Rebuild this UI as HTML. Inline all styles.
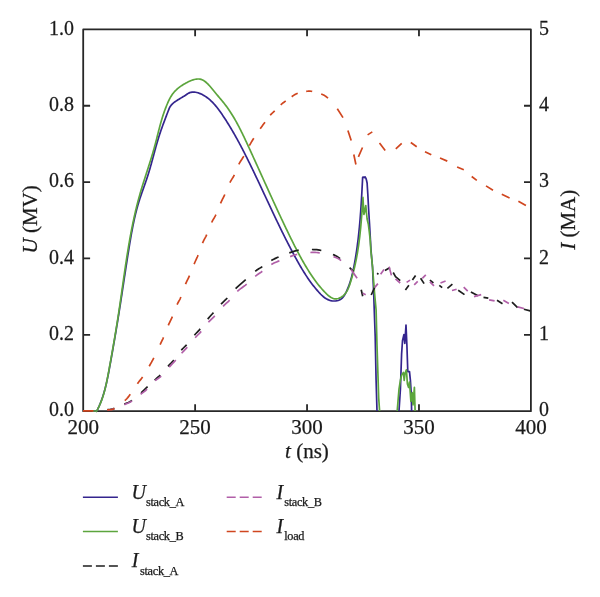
<!DOCTYPE html><html><head><meta charset="utf-8"><style>html,body{margin:0;padding:0;background:#fff;}svg{display:block;will-change:transform}text{font-family:"Liberation Serif",serif;fill:#1a1a1a;stroke:#1a1a1a;stroke-width:0.25px}</style></head><body>
<svg width="600" height="597" viewBox="0 0 600 597">
<rect width="600" height="597" fill="#fff"/>
<g stroke="#272727" stroke-width="1.8" fill="none">
<rect x="83.2" y="29.4" width="447.7" height="381.75" stroke-linejoin="round"/>
<path d="M195.12 411.15V404.25M195.12 29.4V36.3M307.05 411.15V404.25M307.05 29.4V36.3M418.97 411.15V404.25M418.97 29.4V36.3M83.2 334.8H90.1M530.9 334.8H524M83.2 258.45H90.1M530.9 258.45H524M83.2 182.1H90.1M530.9 182.1H524M83.2 105.75H90.1M530.9 105.75H524"/>
</g>
<g fill="none" stroke-linejoin="round">
<path d="M92.5 411L96.5 411L96.54 411.43L97.1 410.36L97.65 409.28L98.18 408.19L98.69 407.1L99.19 406L99.67 404.89L100.14 403.77L100.59 402.65L101.03 401.52L101.46 400.38L101.87 399.24L102.27 398.09L102.66 396.94L103.04 395.78L103.4 394.61L103.76 393.44L104.1 392.27L104.43 391.09L104.76 389.91L105.07 388.72L105.38 387.53L105.68 386.33L105.97 385.14L106.25 383.94L106.53 382.73L106.8 381.52L107.06 380.31L107.32 379.1L107.57 377.89L107.82 376.67L108.06 375.46L108.3 374.24L108.54 373.02L108.77 371.8L109 370.58L109.23 369.35L109.46 368.13L109.68 366.91L109.9 365.69L110.13 364.46L110.35 363.24L110.57 362.02L110.79 360.8L111.01 359.58L111.23 358.36L111.45 357.14L111.67 355.92L111.88 354.7L112.1 353.48L112.32 352.26L112.53 351.04L112.75 349.82L112.96 348.6L113.17 347.39L113.39 346.17L113.6 344.95L113.81 343.73L114.02 342.51L114.23 341.3L114.44 340.08L114.65 338.86L114.86 337.64L115.07 336.43L115.27 335.21L115.48 333.99L115.69 332.77L115.89 331.56L116.1 330.34L116.3 329.12L116.5 327.91L116.7 326.69L116.91 325.47L117.11 324.26L117.31 323.04L117.51 321.82L117.71 320.61L117.91 319.39L118.1 318.17L118.3 316.95L118.5 315.74L118.69 314.52L118.89 313.3L119.08 312.08L119.28 310.87L119.47 309.65L119.66 308.43L119.86 307.21L120.05 306L120.24 304.78L120.43 303.56L120.62 302.34L120.81 301.12L121 299.9L121.19 298.68L121.37 297.47L121.56 296.25L121.75 295.03L121.93 293.81L122.12 292.59L122.31 291.37L122.49 290.15L122.68 288.93L122.86 287.71L123.05 286.49L123.23 285.27L123.42 284.05L123.6 282.82L123.79 281.6L123.97 280.38L124.16 279.16L124.35 277.94L124.53 276.72L124.72 275.5L124.9 274.28L125.09 273.05L125.28 271.83L125.46 270.61L125.65 269.39L125.84 268.17L126.02 266.94L126.21 265.72L126.4 264.5L126.59 263.28L126.78 262.05L126.97 260.83L127.16 259.61L127.35 258.38L127.55 257.16L127.74 255.94L127.93 254.71L128.13 253.49L128.32 252.27L128.52 251.04L128.72 249.82L128.92 248.6L129.11 247.37L129.32 246.15L129.52 244.92L129.72 243.7L129.92 242.48L130.13 241.25L130.33 240.03L130.54 238.81L130.75 237.58L130.97 236.36L131.18 235.14L131.4 233.92L131.62 232.7L131.85 231.48L132.08 230.26L132.31 229.04L132.54 227.83L132.78 226.61L133.02 225.4L133.27 224.19L133.52 222.98L133.77 221.77L134.03 220.56L134.3 219.36L134.56 218.16L134.84 216.95L135.12 215.76L135.4 214.56L135.69 213.36L135.99 212.17L136.29 210.98L136.6 209.79L136.92 208.61L137.24 207.43L137.57 206.25L137.9 205.07L138.25 203.9L138.6 202.73L138.95 201.56L139.32 200.4L139.69 199.24L140.07 198.08L140.46 196.92L140.85 195.77L141.24 194.62L141.64 193.47L142.04 192.32L142.45 191.17L142.85 190.02L143.26 188.87L143.67 187.73L144.08 186.58L144.48 185.43L144.89 184.28L145.29 183.13L145.69 181.98L146.09 180.83L146.49 179.67L146.87 178.51L147.26 177.35L147.63 176.18L148.01 175.02L148.37 173.85L148.73 172.67L149.08 171.5L149.43 170.32L149.78 169.15L150.12 167.97L150.46 166.79L150.79 165.61L151.12 164.43L151.45 163.25L151.78 162.06L152.1 160.88L152.42 159.71L152.74 158.53L153.05 157.35L153.37 156.18L153.69 155L154 153.83L154.32 152.67L154.63 151.5L154.95 150.34L155.27 149.18L155.58 148.03L155.9 146.88L156.22 145.73L156.55 144.59L156.87 143.45L157.2 142.31L157.54 141.18L157.88 140.04L158.22 138.9L158.58 137.75L158.93 136.61L159.3 135.45L159.68 134.29L160.06 133.13L160.46 131.95L160.86 130.77L161.28 129.58L161.7 128.39L162.12 127.2L162.55 126.02L162.98 124.83L163.41 123.66L163.85 122.5L164.27 121.35L164.7 120.21L165.12 119.09L165.54 117.99L165.95 116.91L166.35 115.85L166.75 114.8L167.15 113.77L167.54 112.76L167.92 111.76L168.3 110.78L168.67 109.82L169.04 108.88L169.44 107.96L169.89 107.07L170.42 106.21L171.02 105.4L171.7 104.62L172.45 103.86L173.26 103.14L174.12 102.44L175.04 101.75L175.99 101.09L176.98 100.43L178 99.79L179.05 99.15L180.11 98.52L181.18 97.88L182.26 97.25L183.34 96.6L184.41 95.95L185.48 95.25L186.54 94.5L187.62 93.77L188.71 93.13L189.82 92.64L190.96 92.3L192.1 92.1L193.26 92.03L194.42 92.08L195.59 92.23L196.74 92.47L197.89 92.79L199.02 93.17L200.13 93.6L201.22 94.08L202.28 94.59L203.32 95.14L204.34 95.73L205.34 96.36L206.32 97.02L207.27 97.71L208.21 98.43L209.13 99.19L210.03 99.97L210.92 100.78L211.78 101.61L212.63 102.47L213.47 103.34L214.29 104.24L215.1 105.16L215.89 106.1L216.67 107.06L217.44 108.03L218.2 109.01L218.94 110.01L219.68 111.01L220.41 112.03L221.13 113.05L221.84 114.08L222.54 115.12L223.24 116.16L223.93 117.2L224.62 118.24L225.3 119.29L225.97 120.33L226.64 121.38L227.31 122.43L227.96 123.48L228.62 124.54L229.27 125.59L229.91 126.65L230.55 127.71L231.18 128.77L231.81 129.83L232.44 130.9L233.06 131.96L233.68 133.03L234.29 134.1L234.9 135.17L235.5 136.24L236.1 137.31L236.7 138.39L237.29 139.46L237.89 140.54L238.47 141.62L239.06 142.7L239.64 143.78L240.21 144.86L240.79 145.95L241.36 147.03L241.93 148.12L242.5 149.21L243.06 150.3L243.62 151.39L244.18 152.48L244.74 153.58L245.29 154.67L245.85 155.77L246.4 156.86L246.95 157.96L247.49 159.06L248.04 160.16L248.59 161.26L249.13 162.36L249.67 163.47L250.21 164.57L250.75 165.68L251.29 166.78L251.83 167.89L252.37 169L252.9 170.11L253.43 171.21L253.97 172.32L254.5 173.44L255.03 174.55L255.56 175.66L256.09 176.77L256.62 177.89L257.15 179L257.68 180.11L258.2 181.23L258.73 182.35L259.26 183.46L259.78 184.58L260.31 185.7L260.83 186.81L261.36 187.93L261.88 189.05L262.4 190.17L262.93 191.29L263.45 192.41L263.97 193.53L264.5 194.64L265.02 195.76L265.54 196.88L266.07 198L266.59 199.12L267.11 200.24L267.64 201.36L268.16 202.48L268.68 203.6L269.21 204.72L269.73 205.84L270.26 206.96L270.78 208.08L271.31 209.2L271.84 210.32L272.36 211.44L272.89 212.56L273.42 213.68L273.95 214.8L274.48 215.92L275.01 217.03L275.54 218.15L276.08 219.27L276.61 220.38L277.14 221.5L277.68 222.61L278.22 223.73L278.75 224.84L279.29 225.96L279.83 227.07L280.37 228.18L280.92 229.29L281.46 230.4L282.01 231.51L282.55 232.62L283.1 233.73L283.65 234.84L284.2 235.94L284.76 237.05L285.31 238.15L285.87 239.26L286.43 240.36L286.99 241.46L287.55 242.56L288.11 243.66L288.68 244.76L289.24 245.86L289.81 246.96L290.39 248.05L290.96 249.15L291.53 250.24L292.11 251.33L292.69 252.42L293.28 253.51L293.86 254.6L294.45 255.68L295.04 256.77L295.63 257.85L296.22 258.93L296.82 260.01L297.42 261.09L298.03 262.17L298.63 263.24L299.25 264.31L299.86 265.38L300.48 266.45L301.11 267.51L301.74 268.57L302.37 269.62L303.01 270.68L303.66 271.72L304.31 272.77L304.97 273.81L305.64 274.84L306.31 275.87L306.99 276.9L307.67 277.91L308.37 278.93L309.07 279.94L309.78 280.94L310.5 281.94L311.23 282.93L311.97 283.91L312.71 284.89L313.47 285.86L314.23 286.82L315.01 287.78L315.8 288.73L316.59 289.67L317.4 290.6L318.22 291.53L319.05 292.45L319.89 293.35L320.75 294.24L321.63 295.11L322.52 295.94L323.45 296.74L324.4 297.49L325.38 298.19L326.4 298.83L327.46 299.4L328.55 299.89L329.7 300.31L330.88 300.63L332.11 300.86L333.36 300.99L334.61 301.02L335.86 300.95L337.07 300.76L338.24 300.45L339.36 300.03L340.39 299.49L341.34 298.82L342.22 298.05L343.02 297.18L343.76 296.23L344.44 295.21L345.08 294.14L345.67 293.03L346.24 291.9L346.77 290.76L347.28 289.61L347.77 288.45L348.24 287.29L348.69 286.13L349.12 284.96L349.53 283.79L349.92 282.61L350.3 281.44L350.66 280.25L351.01 279.07L351.34 277.88L351.66 276.69L351.96 275.49L352.26 274.29L352.54 273.09L352.81 271.89L353.07 270.69L353.33 269.48L353.58 268.28L353.82 267.07L354.05 265.86L354.28 264.65L354.51 263.43L354.73 262.22L354.94 261.01L355.15 259.79L355.36 258.58L355.56 257.36L355.76 256.14L355.96 254.93L356.15 253.71L356.33 252.49L356.52 251.27L356.69 250.05L356.87 248.82L357.04 247.6L357.21 246.38L357.37 245.16L357.53 243.93L357.69 242.71L357.84 241.48L357.99 240.25L358.14 239.03L358.28 237.8L358.42 236.57L358.56 235.34L358.69 234.11L358.82 232.88L358.95 231.66L359.07 230.42L359.19 229.19L359.31 227.96L359.43 226.73L359.54 225.5L359.66 224.27L359.77 223.04L359.87 221.8L359.98 220.57L360.08 219.34L360.18 218.1L360.28 216.87L360.37 215.64L360.46 214.4L360.56 213.17L360.65 211.94L360.73 210.7L360.82 209.47L360.9 208.23L360.99 207L361.07 205.76L361.15 204.53L361.23 203.29L361.3 202.06L361.38 200.83L361.45 199.59L361.53 198.36L361.6 197.12L361.67 195.89L361.74 194.66L361.81 193.42L361.87 192.19L361.94 190.96L362.01 189.72L362.07 188.49L362.14 187.26L362.2 186.02L362.27 184.79L362.33 183.56L362.4 182.33L362.46 181.1L362.52 179.87L362.58 178.64L362.65 177.41L363.2 177L364.4 177.6L365.1 176.9L366 178.4L366.5 180.2L367.1 183L367.8 193.9L368.6 209L369.6 225.3L371 250L372.5 266.8L373.6 291L374.6 320L375.2 336.4L376.1 380.3L377 411M399 411L400.4 389.1L401.6 354L402.5 340.8L403.9 334.6L404.8 343.4L406 325L406.9 345.2L407.8 371.6L409.5 371.6L410.4 380.3L411.3 394.4L411.6 411" stroke="#34258e" stroke-width="1.7"/>
<path d="M92.5 411L96.5 411L96.48 411.38L97.07 410.34L97.64 409.28L98.19 408.21L98.72 407.13L99.23 406.05L99.72 404.95L100.2 403.84L100.66 402.73L101.11 401.61L101.54 400.48L101.95 399.34L102.35 398.2L102.74 397.05L103.11 395.89L103.47 394.72L103.82 393.55L104.15 392.38L104.48 391.2L104.79 390.01L105.09 388.82L105.39 387.62L105.68 386.42L105.95 385.22L106.22 384.02L106.49 382.81L106.75 381.6L107 380.38L107.24 379.16L107.48 377.95L107.72 376.73L107.95 375.51L108.18 374.29L108.41 373.07L108.63 371.84L108.86 370.62L109.08 369.4L109.3 368.18L109.52 366.96L109.74 365.74L109.97 364.53L110.19 363.31L110.41 362.09L110.62 360.88L110.84 359.66L111.06 358.45L111.28 357.23L111.49 356.02L111.71 354.81L111.93 353.59L112.14 352.38L112.35 351.17L112.57 349.96L112.78 348.74L112.99 347.53L113.2 346.32L113.41 345.11L113.62 343.9L113.83 342.69L114.04 341.48L114.25 340.27L114.45 339.06L114.66 337.85L114.87 336.64L115.07 335.43L115.27 334.22L115.47 333.01L115.68 331.8L115.88 330.59L116.08 329.38L116.27 328.17L116.47 326.96L116.67 325.75L116.86 324.53L117.06 323.32L117.25 322.11L117.44 320.9L117.64 319.68L117.83 318.47L118.02 317.26L118.2 316.04L118.39 314.83L118.58 313.61L118.76 312.4L118.95 311.18L119.13 309.96L119.31 308.74L119.49 307.53L119.67 306.31L119.85 305.09L120.03 303.87L120.21 302.65L120.38 301.43L120.56 300.21L120.74 298.99L120.91 297.76L121.09 296.54L121.26 295.32L121.44 294.1L121.61 292.88L121.78 291.65L121.96 290.43L122.13 289.21L122.3 287.98L122.48 286.76L122.65 285.54L122.82 284.31L123 283.09L123.17 281.87L123.35 280.64L123.52 279.42L123.7 278.19L123.87 276.97L124.05 275.75L124.22 274.52L124.4 273.3L124.58 272.08L124.76 270.85L124.94 269.63L125.12 268.41L125.3 267.18L125.48 265.96L125.66 264.74L125.85 263.52L126.03 262.29L126.22 261.07L126.4 259.85L126.59 258.63L126.78 257.41L126.97 256.19L127.16 254.97L127.36 253.75L127.55 252.53L127.75 251.31L127.95 250.09L128.15 248.88L128.35 247.66L128.55 246.44L128.76 245.23L128.96 244.01L129.17 242.8L129.38 241.58L129.6 240.37L129.81 239.16L130.03 237.95L130.25 236.73L130.47 235.52L130.69 234.31L130.92 233.1L131.15 231.9L131.38 230.69L131.61 229.48L131.85 228.28L132.09 227.07L132.33 225.87L132.57 224.66L132.82 223.46L133.07 222.26L133.32 221.06L133.58 219.86L133.84 218.66L134.1 217.47L134.36 216.27L134.63 215.08L134.9 213.88L135.18 212.69L135.45 211.5L135.73 210.31L136.02 209.12L136.31 207.93L136.6 206.74L136.89 205.56L137.19 204.37L137.49 203.19L137.8 202.01L138.11 200.83L138.42 199.65L138.74 198.47L139.06 197.3L139.39 196.12L139.72 194.95L140.05 193.78L140.39 192.61L140.73 191.44L141.08 190.27L141.42 189.1L141.78 187.94L142.13 186.77L142.49 185.61L142.85 184.45L143.21 183.28L143.58 182.12L143.95 180.96L144.32 179.8L144.69 178.64L145.06 177.48L145.43 176.32L145.8 175.16L146.18 174L146.55 172.84L146.93 171.68L147.3 170.52L147.68 169.35L148.05 168.19L148.43 167.03L148.8 165.86L149.17 164.7L149.54 163.53L149.91 162.36L150.28 161.2L150.65 160.03L151.01 158.85L151.37 157.68L151.73 156.51L152.08 155.33L152.44 154.15L152.79 152.97L153.13 151.79L153.47 150.61L153.81 149.42L154.15 148.23L154.48 147.04L154.8 145.84L155.12 144.65L155.44 143.45L155.75 142.25L156.06 141.05L156.37 139.85L156.68 138.65L156.98 137.45L157.28 136.25L157.58 135.05L157.89 133.85L158.19 132.66L158.49 131.47L158.79 130.28L159.1 129.1L159.4 127.92L159.71 126.75L160.02 125.58L160.34 124.41L160.66 123.26L160.98 122.11L161.31 120.96L161.64 119.83L161.98 118.7L162.32 117.58L162.67 116.47L163.02 115.37L163.39 114.27L163.75 113.19L164.13 112.11L164.51 111.04L164.9 109.98L165.3 108.92L165.7 107.87L166.11 106.82L166.53 105.78L166.95 104.75L167.39 103.71L167.83 102.69L168.28 101.66L168.75 100.65L169.24 99.64L169.75 98.64L170.28 97.66L170.84 96.69L171.44 95.73L172.06 94.78L172.73 93.85L173.43 92.94L174.18 92.05L174.97 91.18L175.8 90.33L176.68 89.5L177.59 88.69L178.53 87.9L179.51 87.13L180.52 86.39L181.56 85.67L182.63 84.97L183.72 84.29L184.84 83.64L185.97 83.02L187.13 82.42L188.3 81.84L189.48 81.3L190.68 80.78L191.88 80.31L193.08 79.89L194.27 79.53L195.46 79.26L196.63 79.07L197.78 78.98L198.9 79L200 79.15L201.06 79.41L202.09 79.79L203.1 80.28L204.08 80.85L205.03 81.51L205.97 82.25L206.88 83.06L207.78 83.92L208.65 84.83L209.52 85.78L210.37 86.76L211.21 87.76L212.04 88.77L212.87 89.79L213.69 90.79L214.51 91.79L215.32 92.77L216.13 93.73L216.93 94.69L217.73 95.64L218.53 96.58L219.31 97.51L220.1 98.44L220.87 99.37L221.64 100.29L222.4 101.21L223.15 102.14L223.89 103.07L224.63 104L225.35 104.94L226.07 105.88L226.77 106.83L227.47 107.79L228.15 108.76L228.83 109.73L229.5 110.72L230.16 111.7L230.81 112.7L231.45 113.7L232.08 114.71L232.71 115.72L233.33 116.74L233.94 117.77L234.54 118.8L235.14 119.83L235.73 120.88L236.32 121.92L236.89 122.97L237.47 124.03L238.03 125.09L238.6 126.15L239.15 127.22L239.71 128.29L240.25 129.37L240.8 130.44L241.34 131.53L241.87 132.61L242.41 133.7L242.94 134.79L243.46 135.88L243.99 136.98L244.51 138.07L245.03 139.17L245.54 140.27L246.06 141.37L246.57 142.47L247.08 143.58L247.6 144.68L248.11 145.79L248.62 146.89L249.13 148L249.64 149.11L250.15 150.21L250.65 151.32L251.16 152.43L251.67 153.54L252.18 154.65L252.68 155.76L253.19 156.87L253.7 157.98L254.2 159.09L254.71 160.2L255.22 161.31L255.72 162.43L256.23 163.54L256.73 164.65L257.24 165.76L257.74 166.88L258.25 167.99L258.75 169.1L259.25 170.22L259.76 171.33L260.26 172.45L260.77 173.56L261.27 174.68L261.78 175.79L262.28 176.91L262.79 178.02L263.29 179.14L263.8 180.26L264.3 181.37L264.81 182.49L265.31 183.61L265.82 184.72L266.33 185.84L266.83 186.96L267.34 188.08L267.85 189.19L268.35 190.31L268.86 191.43L269.37 192.54L269.88 193.66L270.39 194.78L270.9 195.9L271.41 197.02L271.92 198.13L272.43 199.25L272.94 200.37L273.45 201.49L273.97 202.6L274.48 203.72L274.99 204.84L275.51 205.95L276.02 207.07L276.54 208.19L277.06 209.31L277.58 210.42L278.09 211.54L278.61 212.66L279.13 213.77L279.66 214.89L280.18 216L280.7 217.12L281.22 218.24L281.75 219.35L282.27 220.47L282.8 221.58L283.33 222.7L283.86 223.81L284.39 224.92L284.92 226.04L285.45 227.15L285.98 228.26L286.52 229.38L287.05 230.49L287.59 231.6L288.13 232.71L288.67 233.83L289.21 234.94L289.75 236.05L290.29 237.16L290.84 238.27L291.38 239.38L291.93 240.48L292.48 241.59L293.03 242.7L293.59 243.8L294.14 244.9L294.7 246.01L295.26 247.11L295.82 248.21L296.39 249.3L296.96 250.4L297.53 251.49L298.11 252.58L298.68 253.67L299.27 254.76L299.85 255.84L300.44 256.92L301.03 258L301.63 259.07L302.23 260.14L302.83 261.21L303.44 262.28L304.05 263.34L304.67 264.4L305.29 265.45L305.92 266.5L306.55 267.55L307.19 268.59L307.83 269.63L308.47 270.67L309.13 271.7L309.78 272.72L310.45 273.74L311.11 274.76L311.79 275.77L312.47 276.78L313.16 277.78L313.86 278.78L314.57 279.77L315.29 280.76L316.02 281.74L316.76 282.72L317.52 283.7L318.28 284.67L319.06 285.64L319.85 286.6L320.66 287.55L321.48 288.51L322.32 289.46L323.17 290.4L324.04 291.34L324.93 292.27L325.83 293.2L326.76 294.11L327.7 294.98L328.66 295.79L329.64 296.55L330.64 297.22L331.67 297.8L332.71 298.27L333.77 298.62L334.86 298.83L335.97 298.89L337.1 298.78L338.23 298.53L339.35 298.14L340.45 297.63L341.51 297.01L342.51 296.31L343.44 295.54L344.29 294.7L345.08 293.81L345.8 292.86L346.47 291.86L347.08 290.81L347.65 289.73L348.18 288.61L348.66 287.47L349.12 286.3L349.55 285.11L349.95 283.91L350.34 282.71L350.72 281.5L351.09 280.28L351.45 279.07L351.8 277.86L352.14 276.66L352.47 275.45L352.8 274.24L353.12 273.03L353.43 271.82L353.74 270.62L354.03 269.41L354.32 268.2L354.6 267L354.88 265.79L355.15 264.59L355.41 263.38L355.66 262.18L355.91 260.97L356.15 259.76L356.39 258.56L356.62 257.35L356.84 256.15L357.06 254.94L357.27 253.74L357.47 252.53L357.68 251.32L357.87 250.12L358.06 248.91L358.24 247.7L358.42 246.5L358.6 245.29L358.77 244.08L358.93 242.87L359.1 241.66L359.25 240.45L359.4 239.24L359.55 238.03L359.7 236.81L359.84 235.6L359.97 234.39L360.11 233.17L360.23 231.96L360.36 230.74L360.48 229.52L360.6 228.31L360.72 227.09L360.83 225.87L360.94 224.64L361.05 223.42L361.16 222.2L361.26 220.97L361.36 219.75L361.46 218.52L361.56 217.29L361.65 216.06L361.75 214.83L361.84 213.6L361.93 212.36L362.02 211.13L362.11 209.89L362.19 208.65L362.28 207.41L362.36 206.17L362.45 204.93L362.53 203.68L362.61 202.43L362.7 201.18L362.78 199.93L362.86 198.68L362.94 197.43L363.9 214.5L364.4 213L365.8 205.5L366.4 212L367.1 219L368.3 224L369.3 232L370.2 240L370.8 250L372.5 266.8L374.6 293.6L376.1 310L377 345.2L378.7 398L379.6 411M397.2 411L399 389.1L400.4 380.3L401.6 375.1L403.4 372.4L404.2 380.3L405.1 373.3L406.4 369.8L407.4 383.9L408.6 387.4L409.5 382L410.9 401.5L412.2 392.7L413 405L414.4 387.4L415.1 411" stroke="#5ca53d" stroke-width="1.7"/>
<path d="M107.2 409.8L107.95 409.68L108.97 409.54L110.18 409.37L111.53 409.13L112.96 408.82L114.4 408.4M124.3 404.1L125.69 403.49L126.98 402.97L128.2 402.46L129.41 401.9L130.66 401.24L132 400.4M141.1 392.8L142.33 391.7L143.44 390.67L144.48 389.68L145.49 388.71L146.52 387.72L147.6 386.7M154.6 380.2L155.59 379.3L156.49 378.5L157.35 377.74L158.22 376.94L159.16 376.05L160.2 375M168 366.3L169.06 365.16L170.02 364.18L170.92 363.27L171.81 362.34L172.76 361.31L173.8 360.1M181.3 350.3L182.28 349.17L183.14 348.27L183.93 347.48L184.73 346.7L185.6 345.81L186.6 344.7M194.4 335.2L195.46 334.01L196.42 332.99L197.32 332.07L198.21 331.14L199.16 330.12L200.2 328.9M207.7 319.1L208.75 317.85L209.7 316.76L210.6 315.76L211.5 314.79L212.45 313.76L213.5 312.6M221 304.2L222.1 303.08L223.11 302.09L224.1 301.16L225.1 300.21L226.15 299.19L227.3 298M235.6 288.7L237.19 287.16L238.86 285.62L240.57 284.09L242.31 282.57L244.03 281.07L245.7 279.6M255.2 271.3L256.5 270.32L257.67 269.52L258.78 268.81L259.88 268.14L261.03 267.42L262.3 266.6M271.3 260.5L272.58 259.77L273.73 259.16L274.84 258.63L275.98 258.11L277.21 257.59L278.6 257M289.3 252.9L290.9 252.35L292.39 251.82L293.84 251.34L295.33 250.9L296.93 250.52L298.7 250.2M311.9 249.5L313.66 249.53L315.23 249.6L316.69 249.71L318.14 249.88L319.64 250.14L321.3 250.5M333 254.5L334.42 255.12L335.62 255.68L336.69 256.24L337.73 256.87L338.83 257.63L340.1 258.6M349.6 267.6L353.6 271.6M361.2 289.7L362.7 296.3M371.2 295L374.6 287.6M377.3 274.5L378.2 273M385 270.5L390 267.5M393.2 272.5L395.5 276.6L400.2 280.7M405.4 290L408.9 285.3M412.4 280.1L415.6 275.4M420.6 278.3L424.1 283.6M429.9 280.1L433.4 283M439.3 285.3L442.2 287.7M447.4 288.3L452.4 284.1M458.2 290.3L464.5 294.6M470.9 291.9L478 295.8M483.5 297.4L488.3 298.2M497 300.3L502.5 303.7M512 302.2L517.6 307.7M523.9 309.3L530.2 310.9" stroke="#1e1e1e" stroke-width="1.7"/>
<path d="M107.2 410L107.95 409.9L108.96 409.8L110.17 409.66L111.53 409.47L112.95 409.19L114.4 408.8M124.4 404.6L125.79 404L127.07 403.47L128.29 402.96L129.48 402.41L130.7 401.77L132 401M140.6 394.3L141.79 393.4L142.86 392.61L143.88 391.86L144.89 391.09L145.95 390.23L147.1 389.2M155.2 380.7L156.3 379.77L157.28 379.07L158.21 378.49L159.13 377.89L160.11 377.17L161.2 376.2M169.2 367.1L170.39 365.81L171.53 364.6L172.64 363.46L173.71 362.34L174.76 361.23L175.8 360.1M181.6 353.3L182.53 352.28L183.43 351.34L184.32 350.42L185.24 349.46L186.22 348.41L187.3 347.2M195.2 337.7L196.3 336.5L197.3 335.47L198.24 334.52L199.18 333.59L200.15 332.57L201.2 331.4M208.4 322.3L209.49 321.11L210.52 320.09L211.53 319.13L212.56 318.17L213.63 317.12L214.8 315.9M223.1 306.3L224.27 305.11L225.36 304.11L226.39 303.2L227.41 302.3L228.47 301.33L229.6 300.2M237.3 291.4L238.78 290.1L240.34 288.87L241.95 287.69L243.57 286.51L245.17 285.33L246.7 284.1M255.2 276.3L256.44 275.33L257.6 274.49L258.72 273.74L259.84 273L261.02 272.21L262.3 271.3M271.3 264.5L272.67 263.71L273.97 263.06L275.24 262.49L276.54 261.96L277.91 261.41L279.4 260.8M290.1 256.6L291.42 256.11L292.51 255.71L293.49 255.36L294.51 255.04L295.71 254.73L297.2 254.4M310.4 252.5L312.14 252.41L313.66 252.37L315.07 252.41L316.49 252.51L318.03 252.71L319.8 253M333.5 256.6L335.09 257.19L336.4 257.72L337.53 258.26L338.61 258.88L339.77 259.64L341.1 260.6M351.1 269.6L357.1 278.2M362.7 293.2L365.7 294.7M374.6 287.6L377.9 283.6M380.6 274.2L384 269.5M389.1 266.7L391.4 275.4M395.5 278.9L400.2 283M406.6 282.4L410.1 280.1M414.2 284.8L417.7 281.3M422.3 278.3L425.8 274.8M429.9 281.8L434 285.9M440.5 283L445.6 281M452 290.5L456.6 289.2M463.7 287.1L467.7 291.1M474 296.6L481.2 294.6M489.1 299.8L494.6 300.9M503.3 300.3L508.9 303.4M517.6 306.9L523.9 308.5" stroke="#b15fa8" stroke-width="1.7"/>
<path d="M83 410.8L84.09 410.81L85.57 410.83L87.34 410.86L89.3 410.87L91.35 410.85L93.4 410.8M107.2 409.9L108.74 409.78L109.97 409.74L111.01 409.69L112.01 409.54L113.09 409.21L114.4 408.6M124.8 400.6L125.98 399.5L126.94 398.53L127.76 397.61L128.53 396.66L129.35 395.58L130.3 394.3M137.4 383.7L138.36 382.41L139.22 381.33L140.03 380.36L140.83 379.39L141.67 378.31L142.6 377M149.2 366.2L150.06 364.73L150.82 363.43L151.52 362.21L152.21 360.94L152.96 359.54L153.8 357.9M160.1 344.6L160.82 343.1L161.4 341.93L161.89 340.93L162.37 339.94L162.89 338.81L163.5 337.4M168.3 325.3L169.02 323.69L169.7 322.27L170.36 320.94L171.01 319.61L171.69 318.2L172.4 316.6M177.1 304.7L177.78 303.23L178.4 302.01L179.01 300.91L179.61 299.79L180.23 298.53L180.9 297M185.5 284.2L186.19 282.57L186.86 281.16L187.5 279.88L188.14 278.6L188.81 277.25L189.5 275.7M194.1 264.1L194.8 262.48L195.46 261.02L196.11 259.63L196.76 258.23L197.42 256.74L198.1 255.1M202.5 243.1L203.2 241.54L203.89 240.17L204.56 238.91L205.25 237.65L205.96 236.28L206.7 234.7M211.7 222.5L212.44 220.97L213.14 219.67L213.82 218.49L214.5 217.32L215.19 216.06L215.9 214.6M220.5 203.4L221.22 201.82L221.93 200.37L222.62 198.99L223.32 197.6L224.04 196.12L224.8 194.5M229.9 182.7L230.69 181.19L231.45 179.87L232.19 178.67L232.93 177.48L233.66 176.22L234.4 174.8M238.8 164.3L239.59 162.83L240.4 161.48L241.23 160.19L242.07 158.91L242.93 157.57L243.8 156.1M249.3 145.7L250.09 144.3L250.8 143.06L251.49 141.89L252.2 140.73L252.95 139.53L253.8 138.2M260.2 128.8L261.09 127.54L261.9 126.4L262.68 125.34L263.43 124.32L264.2 123.28L265 122.2M270.2 115.3L270.97 114.43L271.7 113.68L272.4 112.99L273.11 112.32L273.87 111.61L274.7 110.8M280.7 104.8L281.58 104.05L282.4 103.39L283.2 102.79L284 102.22L284.82 101.64L285.7 101M291.7 96.7L292.67 96.05L293.61 95.41L294.54 94.79L295.51 94.21L296.56 93.68L297.7 93.2M306.2 91.4L307.31 91.27L308.27 91.17L309.17 91.12L310.07 91.14L311.06 91.23L312.2 91.4M321.2 94L322.43 94.53L323.54 95.04L324.58 95.6L325.63 96.27L326.75 97.11L328 98.2M337.3 108.8L343 117.6M347.9 130.5L351.2 140.4M353.8 154.5L355.9 164.5M358.4 156.9L362.5 147.5M367.6 134.9L372.3 131.9M379.5 143.1L385.2 150.6M395.8 148.8L401.7 143.3M410.8 142.5L416.7 146.7M425 151.7L431.3 154.7M440 158L447.3 161.1M457.1 167L463.8 169.8M471.7 176.5L476.8 180.4M486 185.9L493 190.2M501.8 194.3L509.6 198.1M518.4 201.3L525.9 205.6" stroke="#d0461f" stroke-width="1.7"/>
</g>
<text transform="translate(74 416.35) scale(0.95 1)" font-size="21" text-anchor="end">0.0</text>
<text transform="translate(539.1 416.35) scale(0.95 1)" font-size="21">0</text>
<text transform="translate(74 340) scale(0.95 1)" font-size="21" text-anchor="end">0.2</text>
<text transform="translate(539.1 340) scale(0.95 1)" font-size="21">1</text>
<text transform="translate(74 263.65) scale(0.95 1)" font-size="21" text-anchor="end">0.4</text>
<text transform="translate(539.1 263.65) scale(0.95 1)" font-size="21">2</text>
<text transform="translate(74 187.3) scale(0.95 1)" font-size="21" text-anchor="end">0.6</text>
<text transform="translate(539.1 187.3) scale(0.95 1)" font-size="21">3</text>
<text transform="translate(74 110.95) scale(0.95 1)" font-size="21" text-anchor="end">0.8</text>
<text transform="translate(539.1 110.95) scale(0.95 1)" font-size="21">4</text>
<text transform="translate(74 34.6) scale(0.95 1)" font-size="21" text-anchor="end">1.0</text>
<text transform="translate(539.1 34.6) scale(0.95 1)" font-size="21">5</text>
<text x="83.2" y="433.9" font-size="21" text-anchor="middle">200</text>
<text x="195.12" y="433.9" font-size="21" text-anchor="middle">250</text>
<text x="307.05" y="433.9" font-size="21" text-anchor="middle">300</text>
<text x="418.97" y="433.9" font-size="21" text-anchor="middle">350</text>
<text x="530.9" y="433.9" font-size="21" text-anchor="middle">400</text>
<text x="307" y="458.3" font-size="21" text-anchor="middle"><tspan font-style="italic">t</tspan> (ns)</text>
<text transform="translate(36.8 219.4) rotate(-90)" font-size="21" text-anchor="middle"><tspan font-style="italic">U</tspan> (MV)</text>
<text transform="translate(575.2 219.8) rotate(-90)" font-size="21" text-anchor="middle"><tspan font-style="italic">I</tspan> (MA)</text>
<g fill="none"><path d="M82.9 497.2H117.9" stroke="#34258e" stroke-width="1.45"/><path d="M82.9 531.5H117.9" stroke="#5ca53d" stroke-width="1.45"/><path d="M82.9 565.9h9M95.9 565.9h9M108.9 565.9h9" stroke="#1e1e1e" stroke-width="1.55"/><path d="M226.7 497.2h9M239.7 497.2h9M252.7 497.2h9" stroke="#b15fa8" stroke-width="1.55"/><path d="M226.7 531.5h9M239.7 531.5h9M252.7 531.5h9" stroke="#d0461f" stroke-width="1.55"/><text x="131.5" y="498.6" font-size="20"><tspan font-style="italic">U</tspan><tspan font-size="12.3" letter-spacing="-0.3" dx="0.0" dy="7.3">stack_A</tspan></text><text x="131.5" y="532.9" font-size="20"><tspan font-style="italic">U</tspan><tspan font-size="12.3" letter-spacing="-0.3" dx="0.0" dy="7.3">stack_B</tspan></text><text x="131.7" y="567.3" font-size="20"><tspan font-style="italic">I</tspan><tspan font-size="12.3" letter-spacing="-0.3" dx="1.6" dy="7.3">stack_A</tspan></text><text x="276.5" y="498.6" font-size="20"><tspan font-style="italic">I</tspan><tspan font-size="12.3" letter-spacing="-0.3" dx="1.0" dy="7.3">stack_B</tspan></text><text x="276.5" y="532.9" font-size="20"><tspan font-style="italic">I</tspan><tspan font-size="12.3" letter-spacing="-0.3" dx="1.0" dy="7.3">load</tspan></text></g>
</svg></body></html>
